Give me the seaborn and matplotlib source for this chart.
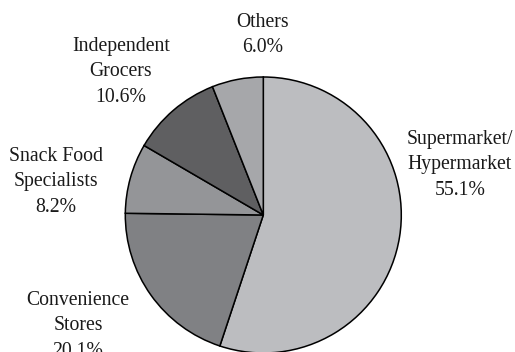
import matplotlib
matplotlib.use("Agg")
import matplotlib.pyplot as plt
import seaborn as sns

# Retail channel shares
channels = ["Supermarket/\nHypermarket", "Convenience\nStores", "Snack Food\nSpecialists",
            "Independent\nGrocers", "Others"]
shares = [55.1, 20.1, 8.2, 10.6, 6.0]
colors = ["#bcbdc0", "#808184", "#949598", "#5f5f61", "#a6a7aa"]

# label block centres (pixels from top-left of the canvas)
label_px = [(460, 165), (78, 326), (56, 182), (121, 72), (263, 35)]

sns.set_theme(style="white")
plt.rcParams["font.family"] = ["Liberation Serif", "DejaVu Serif"]

W, H = 515, 352
cx, cy, r = 263.3, 215.0, 138.0
fig = plt.figure(figsize=(W / 100, H / 100), dpi=100)
ax = fig.add_axes([0, 0, 1, 1])

ax.pie(shares, colors=colors, startangle=90, counterclock=False, radius=1.0,
       wedgeprops=dict(edgecolor="black", linewidth=1.1))

ax.set_xlim(-cx / r, (W - cx) / r)
ax.set_ylim(-(H - cy) / r, cy / r)
ax.set_aspect("equal")
ax.axis("off")

for name, val, (px, py) in zip(channels, shares, label_px):
    ax.text((px - cx) / r, (cy - py) / r, f"{name}\n{val:.1f}%",
            ha="center", va="center", multialignment="center",
            fontsize=14.2, color="#1a1a1a", linespacing=1.45)

fig.savefig("out.png", dpi=100)
